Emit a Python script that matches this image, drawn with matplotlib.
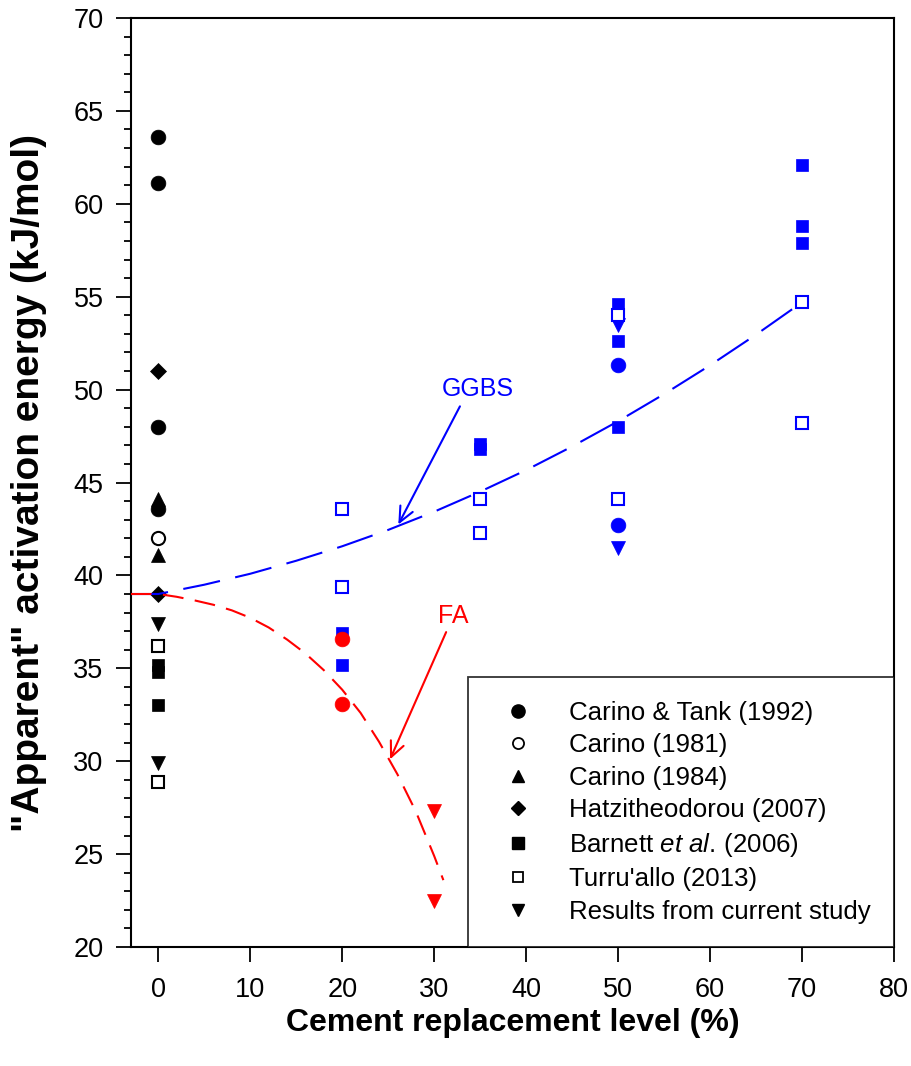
import matplotlib
matplotlib.use('Agg')
import matplotlib.pyplot as plt
from matplotlib.lines import Line2D
from matplotlib.ticker import MultipleLocator

plt.rcParams['font.family'] = ['Liberation Sans', 'DejaVu Sans']
plt.rcParams['mathtext.fontset'] = 'custom'
plt.rcParams['mathtext.rm'] = 'Liberation Sans'
plt.rcParams['mathtext.it'] = 'Liberation Sans:italic'

# activation energies (kJ/mol) against replacement level (%), binder per point
ct_level = [0, 0, 0, 0, 20, 20, 50, 50]
ct_energy = [63.6, 61.1, 48.0, 43.6, 36.6, 33.1, 51.3, 42.7]
ct_binder = ['PC', 'PC', 'PC', 'PC', 'FA', 'FA', 'GGBS', 'GGBS']

c81_level = [0]
c81_energy = [42.0]
c81_binder = ['PC']

c84_level = [0, 0]
c84_energy = [44.1, 41.1]
c84_binder = ['PC', 'PC']

hatz_level = [0, 0]
hatz_energy = [51.0, 39.0]
hatz_binder = ['PC', 'PC']

barn_level = [0, 0, 0, 20, 20, 35, 35, 50, 50, 50, 70, 70, 70]
barn_energy = [35.2, 34.8, 33.0, 36.9, 35.2, 47.1, 46.8, 54.6, 52.6, 48.0, 62.1, 58.8, 57.9]
barn_binder = ['PC'] * 3 + ['GGBS'] * 10

turr_level = [0, 0, 20, 20, 35, 35, 50, 50, 70, 70]
turr_energy = [36.2, 28.9, 43.55, 39.4, 44.1, 42.3, 54.0, 44.1, 54.7, 48.2]
turr_binder = ['PC'] * 2 + ['GGBS'] * 8

cur_level = [0, 0, 30, 30, 50, 50]
cur_energy = [37.4, 29.9, 27.3, 22.5, 53.5, 41.5]
cur_binder = ['PC', 'PC', 'FA', 'FA', 'GGBS', 'GGBS']

# trend curves
ggbs_x = [-3, 0, 5, 10, 15, 20, 25, 30, 35, 40, 45, 50, 55, 60, 65, 70]
ggbs_y = [39.0, 39.0, 39.5, 40.09, 40.79, 41.57, 42.45, 43.43, 44.51, 45.67,
          46.94, 48.3, 49.76, 51.31, 52.96, 54.7]
fa_x = [-3, 0, 2, 4, 6, 8, 10, 12, 14, 16, 18, 20, 22, 24, 26, 28, 30, 31]
fa_y = [39.0, 39.0, 38.85, 38.65, 38.42, 38.12, 37.72, 37.2, 36.55, 35.8,
        34.9, 33.85, 32.6, 31.05, 29.3, 27.3, 24.9, 23.6]

binder_colours = {'PC': 'black', 'GGBS': '#0000ff', 'FA': '#ff0000'}

fig = plt.figure(figsize=(9.12, 10.66), dpi=100)
ax = fig.add_axes([0.1433, 0.1116, 0.8370, 0.8715])


def plot_source(levels, energies, binders, marker, size, hollow=False, z=3):
    for b in ['PC', 'GGBS', 'FA']:
        xs = [x for x, bb in zip(levels, binders) if bb == b]
        ys = [y for y, bb in zip(energies, binders) if bb == b]
        if not xs:
            continue
        col = binder_colours[b]
        ax.plot(xs, ys, linestyle='none', marker=marker, markersize=size,
                markerfacecolor='white' if hollow else col,
                markeredgecolor=col, markeredgewidth=1.5 if hollow else 0.5,
                zorder=z)


plot_source(barn_level, barn_energy, barn_binder, 's', 8.6)
plot_source(ct_level, ct_energy, ct_binder, 'o', 10.6)
plot_source(c81_level, c81_energy, c81_binder, 'o', 9.5, hollow=True)
plot_source(c84_level, c84_energy, c84_binder, '^', 10.0)
plot_source(hatz_level, hatz_energy, hatz_binder, 'D', 8.3)
plot_source(cur_level, cur_energy, cur_binder, 'v', 10.0)

ax.plot(ggbs_x, ggbs_y, color='#0000ff', lw=1.5, linestyle=(0, (18, 7.5)), zorder=4)
ax.plot(fa_x, fa_y, color='#ff0000', lw=1.5, linestyle=(0, (10, 5.5)), zorder=4)

plot_source(turr_level, turr_energy, turr_binder, 's', 8.6, hollow=True, z=5)

# labels for the two curves
ax.annotate('', xy=(26.1, 42.74), xytext=(32.8, 49.1),
            arrowprops=dict(arrowstyle='->,head_length=1.1,head_width=0.5',
                            color='#0000ff', lw=1.5, shrinkA=0, shrinkB=0))
ax.text(34.7, 50.05, 'GGBS', color='#0000ff', fontsize=18, ha='center', va='center')
ax.annotate('', xy=(25.2, 30.1), xytext=(31.3, 36.95),
            arrowprops=dict(arrowstyle='->,head_length=1.1,head_width=0.5',
                            color='#ff0000', lw=1.5, shrinkA=0, shrinkB=0))
ax.text(32.1, 37.8, 'FA', color='#ff0000', fontsize=18, ha='center', va='center')

ax.set_xlim(-3, 80)
ax.set_ylim(20, 70)
ax.xaxis.set_major_locator(MultipleLocator(10))
ax.yaxis.set_major_locator(MultipleLocator(5))
ax.yaxis.set_minor_locator(MultipleLocator(1))
ax.tick_params(which='major', direction='out', length=10.5, width=1.3,
               labelsize=19.5, top=False, right=False)
ax.tick_params(axis='x', pad=11)
ax.tick_params(axis='y', pad=9)
ax.tick_params(which='minor', direction='out', length=5, width=1.3, top=False, right=False)
for s in ax.spines.values():
    s.set_linewidth(1.5)

ax.set_xlabel('Cement replacement level (%)', fontsize=23, fontweight='bold')
ax.set_ylabel('"Apparent" activation energy (kJ/mol)', fontsize=28, fontweight='bold')
ax.xaxis.set_label_coords(0.5, -0.066)
ax.yaxis.set_label_coords(-0.109, 0.5)

handles = [
    Line2D([], [], ls='none', marker='o', ms=9.5, color='black'),
    Line2D([], [], ls='none', marker='o', ms=8, mfc='white', mec='black', mew=1.3),
    Line2D([], [], ls='none', marker='^', ms=9, color='black'),
    Line2D([], [], ls='none', marker='D', ms=7.5, color='black'),
    Line2D([], [], ls='none', marker='s', ms=8, color='black'),
    Line2D([], [], ls='none', marker='s', ms=7.7, mfc='white', mec='black', mew=1.3),
    Line2D([], [], ls='none', marker='v', ms=9, color='black'),
]
labels = ['Carino & Tank (1992)', 'Carino (1981)', 'Carino (1984)',
          'Hatzitheodorou (2007)', r'Barnett $\mathit{et\ al.}\,$(2006)',
          "Turru'allo (2013)", 'Results from current study']
leg = ax.legend(handles, labels, loc='lower right', bbox_to_anchor=(1, 0),
                borderaxespad=0, fontsize=18.6, frameon=True, fancybox=False,
                edgecolor='black', borderpad=0.9, handlelength=2.09,
                handletextpad=0.93, labelspacing=0.33)
leg.get_frame().set_linewidth(1.3)
leg.set_zorder(10)

fig.savefig('out.png', dpi=100)
